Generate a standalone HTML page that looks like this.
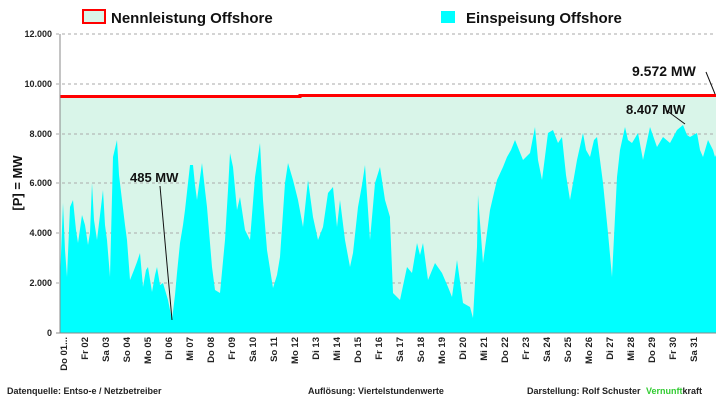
<!DOCTYPE html>
<html><head><meta charset="utf-8"><style>
body{margin:0;background:#fff;width:722px;height:402px;overflow:hidden}
svg{font-family:"Liberation Sans",sans-serif}
</style></head><body>
<svg width="722" height="402" viewBox="0 0 722 402">
<rect x="83" y="10" width="22" height="13" fill="#d9f5e9" stroke="#f00" stroke-width="2"/>
<text x="111" y="23" font-size="15" font-weight="bold" fill="#111">Nennleistung Offshore</text>
<rect x="441" y="11" width="14" height="12" fill="#00ffff"/>
<text x="466" y="23" font-size="15" font-weight="bold" fill="#111">Einspeisung Offshore</text>
<g font-size="9" font-weight="bold" text-anchor="end" fill="#222">
<text x="52" y="37">12.000</text><text x="52" y="87">10.000</text><text x="52" y="137">8.000</text>
<text x="52" y="186">6.000</text><text x="52" y="236">4.000</text><text x="52" y="286">2.000</text><text x="52" y="336">0</text>
</g>
<text transform="translate(22,183) rotate(-90)" font-size="13" font-weight="bold" text-anchor="middle" fill="#111">[P] = MW</text>
<polygon points="60,96.5 300,96.5 300,95.5 716,95.5 716,333 60,333" fill="#d9f5e9"/>
<g stroke="#aaa" stroke-dasharray="3,3" stroke-width="1">
<line x1="56" y1="34" x2="716" y2="34"/><line x1="56" y1="84" x2="716" y2="84"/><line x1="56" y1="134" x2="716" y2="134"/>
<line x1="56" y1="183" x2="716" y2="183"/><line x1="56" y1="233" x2="716" y2="233"/><line x1="56" y1="283" x2="716" y2="283"/>
</g>
<polygon fill="#00ffff" points="60,333 60,280 63,203 65,250 67,277 70,207 73,200 76,230 78,243 82,215 85,225 88,245 90,233 92,183 94,220 97,240 100,215 103,190 105,225 107,240 110,277 113,157 117,140 119,175 122,200 125,225 127,240 130,280 134,270 137,262 140,253 143,287 146,270 148,267 152,292 155,275 157,267 160,285 163,283 168,300 172,320 175,295 177,273 180,243 183,225 185,210 190,165 193,165 195,185 197,200 202,163 205,190 207,207 212,267 215,290 220,293 225,240 228,190 230,153 233,167 237,210 240,197 245,230 250,240 255,177 260,143 263,200 267,250 273,288 277,275 280,257 285,183 288,163 293,180 298,200 303,227 308,180 313,217 318,240 323,227 328,193 333,187 337,227 340,200 345,240 350,267 353,253 358,207 362,185 365,165 370,240 375,183 380,167 385,200 390,217 390,220 393,293 400,300 407,267 412,273 417,243 420,255 423,243 428,280 435,263 442,273 448,287 452,297 457,260 463,303 470,307 473,318 477,247 478,195 483,263 490,210 497,180 503,167 507,157 511,150 515,140 519,150 523,160 530,153 535,127 538,160 542,180 548,133 553,130 558,143 562,137 566,175 570,200 577,160 583,133 586,150 590,157 594,140 597,137 603,183 608,233 612,277 617,177 620,150 625,127 628,140 632,143 638,133 643,160 650,127 657,147 663,137 670,143 677,130 683,125 687,135 690,137 697,133 700,150 703,157 708,140 713,150 715,157 716,155 716,333"/>
<polyline points="60,96.5 300,96.5 300,95.5 716,95.5" fill="none" stroke="#f00" stroke-width="3"/>
<line x1="60" y1="34" x2="60" y2="333" stroke="#888"/>
<line x1="56" y1="333" x2="716" y2="333" stroke="#888"/>
<text x="130" y="182" font-size="13" font-weight="bold" fill="#111">485 MW</text>
<line x1="160" y1="186" x2="172" y2="320" stroke="#111"/>
<text x="632" y="76" font-size="14" font-weight="bold" fill="#111">9.572 MW</text>
<line x1="706" y1="72" x2="715" y2="94" stroke="#111"/>
<text x="626" y="114" font-size="13" font-weight="bold" fill="#111">8.407 MW</text>
<line x1="666" y1="110" x2="685" y2="124" stroke="#111"/>
<g font-size="9.5" font-weight="bold" text-anchor="end" fill="#222">
<text transform="translate(67,337) rotate(-90)">Do 01...</text>
<text transform="translate(88,337) rotate(-90)">Fr 02</text>
<text transform="translate(109,337) rotate(-90)">Sa 03</text>
<text transform="translate(130,337) rotate(-90)">So 04</text>
<text transform="translate(151,337) rotate(-90)">Mo 05</text>
<text transform="translate(172,337) rotate(-90)">Di 06</text>
<text transform="translate(193,337) rotate(-90)">Mi 07</text>
<text transform="translate(214,337) rotate(-90)">Do 08</text>
<text transform="translate(235,337) rotate(-90)">Fr 09</text>
<text transform="translate(256,337) rotate(-90)">Sa 10</text>
<text transform="translate(277,337) rotate(-90)">So 11</text>
<text transform="translate(298,337) rotate(-90)">Mo 12</text>
<text transform="translate(319,337) rotate(-90)">Di 13</text>
<text transform="translate(340,337) rotate(-90)">Mi 14</text>
<text transform="translate(361,337) rotate(-90)">Do 15</text>
<text transform="translate(382,337) rotate(-90)">Fr 16</text>
<text transform="translate(403,337) rotate(-90)">Sa 17</text>
<text transform="translate(424,337) rotate(-90)">So 18</text>
<text transform="translate(445,337) rotate(-90)">Mo 19</text>
<text transform="translate(466,337) rotate(-90)">Di 20</text>
<text transform="translate(487,337) rotate(-90)">Mi 21</text>
<text transform="translate(508,337) rotate(-90)">Do 22</text>
<text transform="translate(529,337) rotate(-90)">Fr 23</text>
<text transform="translate(550,337) rotate(-90)">Sa 24</text>
<text transform="translate(571,337) rotate(-90)">So 25</text>
<text transform="translate(592,337) rotate(-90)">Mo 26</text>
<text transform="translate(613,337) rotate(-90)">Di 27</text>
<text transform="translate(634,337) rotate(-90)">Mi 28</text>
<text transform="translate(655,337) rotate(-90)">Do 29</text>
<text transform="translate(676,337) rotate(-90)">Fr 30</text>
<text transform="translate(697,337) rotate(-90)">Sa 31</text>
</g>
<g font-size="9" font-weight="bold" fill="#222">
<text x="7" y="394">Datenquelle:  Entso-e  / Netzbetreiber</text>
<text x="308" y="394">Auflösung: Viertelstundenwerte</text>
<text x="527" y="394">Darstellung:  Rolf Schuster</text>
<text x="646" y="394"><tspan fill="#33cc33">Vernunft</tspan>kraft</text>
</g>
</svg>
</body></html>
